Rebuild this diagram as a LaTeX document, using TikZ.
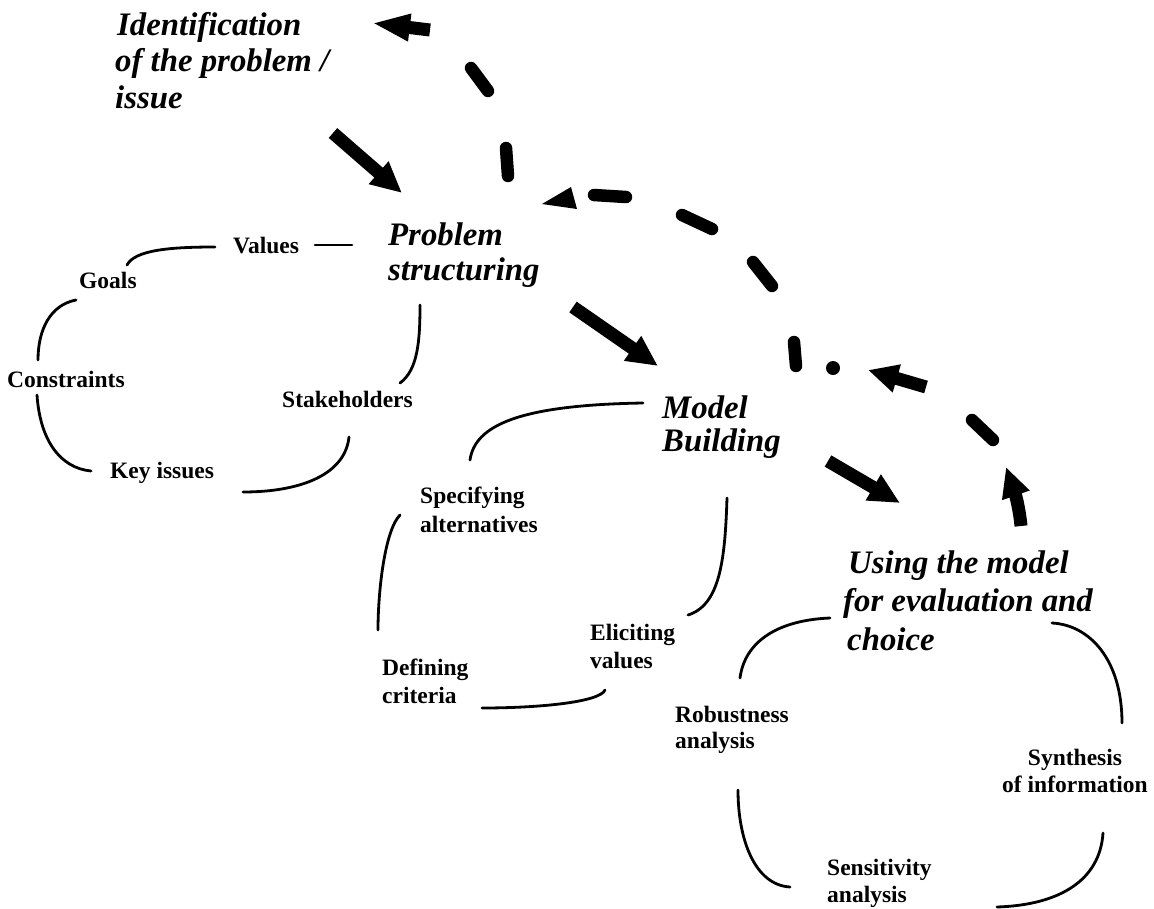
\documentclass[tikz,border=0pt]{standalone}
\usepackage{fontspec}
\setmainfont{Liberation Serif}
\usetikzlibrary{arrows.meta}
\tikzset{
  head/.style={font=\fontsize{32.8}{37}\selectfont\bfseries\itshape, anchor=base west, inner sep=0pt},
  lab/.style={font=\fontsize{23.5}{26}\selectfont\bfseries, anchor=base west, inner sep=0pt},
  labc/.style={lab, anchor=base},
  fat/.style={line width=13pt, -{Triangle[length=31pt,width=28pt]}},
  dsh/.style={line width=12.5pt, line cap=round},
  cur/.style={line width=2.8pt, line cap=round},
}
\begin{document}
\begin{tikzpicture}[x=1pt,y=-1pt]
\useasboundingbox[fill=white] (0,0) rectangle (1154,908);

% headings
\node[head] (id1) at (117,35) {Identification};
\node[head] (id2) at (115,71) {of the problem /};
\node[head] (id3) at (115,108) {issue};
\node[head] (ps1) at (388,245) {Problem};
\node[head] (ps2) at (388,280) {structuring};
\node[head] (mb1) at (662,418) {Model};
\node[head] (mb2) at (662,451) {Building};
\node[head] (um1) at (848,573) {Using the model};
\node[head] (um2) at (843,611) {for evaluation and};
\node[head] (um3) at (847,650) {choice};

% labels
\node[lab] (values) at (233,253) {Values};
\node[lab] (goals) at (79,288) {Goals};
\node[lab] (constr) at (7,387) {Constraints};
\node[lab] (stake) at (282,407) {Stakeholders};
\node[lab] (key) at (110,478) {Key issues};
\node[lab] (spec1) at (420,503) {Specifying};
\node[lab] (spec2) at (420,532) {alternatives};
\node[lab] (def1) at (382,675) {Defining};
\node[lab] (def2) at (382,703) {criteria};
\node[lab] (eli1) at (590,640) {Eliciting};
\node[lab] (eli2) at (590,668) {values};
\node[lab] (rob1) at (675,722) {Robustness};
\node[lab] (rob2) at (675,748) {analysis};
\node[lab] (sen1) at (827,875) {Sensitivity};
\node[lab] (sen2) at (827,902) {analysis};
\node[labc] (syn1) at (1075,765) {Synthesis};
\node[labc] (syn2) at (1075,792) {of information};

% thin curves
\draw[cur] (127,265) .. controls (135,250) and (170,247) .. (215,247);
\draw[cur] (315,245) -- (352,245);
\draw[cur] (76,300) .. controls (50,305) and (38,330) .. (38,360);
\draw[cur] (37,395) .. controls (40,440) and (60,468) .. (91,471);
\draw[cur] (349,437) .. controls (345,475) and (300,492) .. (243,492);
\draw[cur] (420,305) .. controls (420,340) and (418,370) .. (400,383);
\draw[cur] (643,403) .. controls (520,405) and (475,425) .. (470,460);
\draw[cur] (400,515) .. controls (385,530) and (378,590) .. (378,630);
\draw[cur] (482,708) .. controls (540,708) and (600,702) .. (605,690);
\draw[cur] (727,498) .. controls (725,560) and (720,605) .. (688,615);
\draw[cur] (740,678) .. controls (745,640) and (780,620) .. (830,618);
\draw[cur] (738,790) .. controls (738,840) and (755,885) .. (790,887);
\draw[cur] (997,907) .. controls (1060,905) and (1100,880) .. (1103,833);
\draw[cur] (1122,723) .. controls (1122,660) and (1090,625) .. (1052,623);

% solid arrows
\draw[fat] (333,133) -- (402,193);
\draw[fat] (573,307) -- (658,366);
\draw[fat] (828,461) -- (900,503);

% feedback dashes
\draw[line width=13pt, -{Triangle[length=38pt,width=25pt]}] (430,30) -- (372,23);
\draw[dsh] (471,68) -- (488,91);
\draw[dsh] (506,148) -- (508,176);
\fill (542,204) -- (571,187) -- (577,209) -- cycle;
\draw[dsh] (594,195) -- (626,197);
\draw[dsh] (682,215) -- (712,229);
\draw[dsh] (753,262) -- (772,286);
\draw[dsh] (794,342) -- (796,366);
\fill (833,368) circle (7);
\draw[line width=13pt, -{Triangle[length=30pt,width=27pt]}] (926,387) -- (868,370);
\draw[dsh] (972,420) -- (993,440);
\draw[line width=13pt, -{Triangle[length=30pt,width=27pt]}] (1021,526) .. controls (1019,505) and (1014,490) .. (1006,467);
\end{tikzpicture}
\end{document}
